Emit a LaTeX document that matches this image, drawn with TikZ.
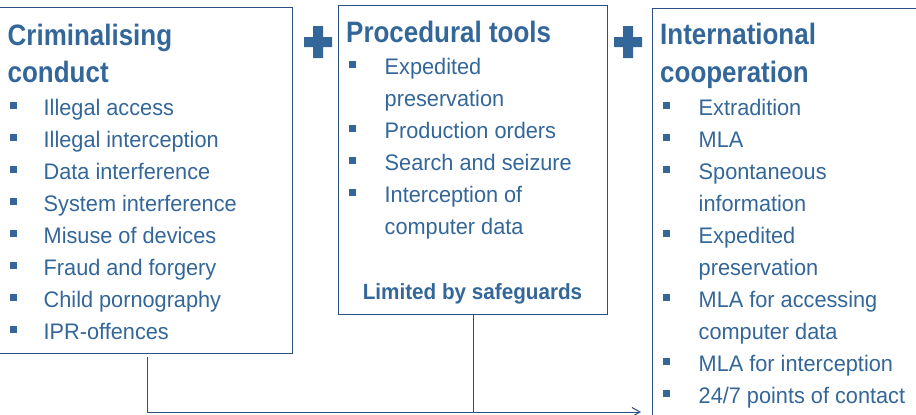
\documentclass[tikz,border=0pt]{standalone}
\usepackage{fontspec}
\setmainfont{Liberation Sans}
\newfontfamily\ttlfont[FakeStretch=0.88]{Liberation Sans}
\newfontfamily\notefont[FakeStretch=0.94]{Liberation Sans}
\newfontfamily\itmfont[FakeStretch=0.965]{Liberation Sans}
\usetikzlibrary{arrows.meta}
\definecolor{txtblue}{RGB}{51,102,153}
\definecolor{lineblue}{RGB}{44,78,130}
\begin{document}
\begin{tikzpicture}[x=1pt,y=-1pt,
  box/.style={draw=lineblue, line width=1pt, anchor=north west, inner sep=0pt},
  ttl/.style={anchor=base west, inner sep=0pt, text=txtblue, font=\ttlfont\bfseries\fontsize{29.5}{34}\selectfont},
  itm/.style={anchor=base west, inner sep=0pt, text=txtblue, font=\itmfont\fontsize{22.5}{26}\selectfont},
  note/.style={anchor=base, inner sep=0pt, text=txtblue, font=\notefont\bfseries\fontsize{22}{26}\selectfont},
  bul/.style={fill=txtblue, minimum size=7pt, inner sep=0pt},
  conn/.style={draw=lineblue, line width=1pt},
  plusbar/.style={fill=txtblue}]
\clip (0,0) rectangle (916,415);
% boxes
\node[box, minimum width=297pt, minimum height=346pt] (crim) at (-5,7) {};
\node[box, minimum width=269pt, minimum height=309pt] (proc) at (338,5) {};
\node[box, minimum width=300pt, minimum height=430pt] (intl) at (652,8) {};
% plus signs
\fill[plusbar] (313,26) rectangle (323,58) (304,37) rectangle (332,47);
\fill[plusbar] (623,26) rectangle (633,58) (614,37) rectangle (642,47);
% left box
\node[ttl] (t1a) at (7.5,45) {Criminalising};
\node[ttl] (t1b) at (7.5,82) {conduct};
\foreach \y/\t [count=\i] in {115/Illegal access, 147/Illegal interception, 179/Data interference,
  211/System interference, 243/Misuse of devices, 275/Fraud and forgery,
  307/Child pornography, 339/IPR-offences} {
  \node[bul] (b1\i) at (13.5,\y-9.5) {};
  \node[itm] (i1\i) at (43.5,\y) {\t};
}
% middle box
\node[ttl] (t2) at (346,42) {Procedural tools};
\foreach \y in {74,138,170,202} \node[bul] at (352.5,\y-9.5) {};
\node[itm] (i21) at (384.5,74) {Expedited};
\node[itm] (i22) at (384.5,106) {preservation};
\node[itm] (i23) at (384.5,138) {Production orders};
\node[itm] (i24) at (384.5,170) {Search and seizure};
\node[itm] (i25) at (384.5,202) {Interception of};
\node[itm] (i26) at (384.5,234) {computer data};
\node[note] (lim) at (472.5,299) {Limited by safeguards};
% right box
\node[ttl] (t3a) at (660,44) {International};
\node[ttl] (t3b) at (660,82) {cooperation};
\foreach \y in {115,147,179,243,307,371,403} \node[bul] at (666.5,\y-9.5) {};
\node[itm] (i31) at (698.5,115) {Extradition};
\node[itm] (i32) at (698.5,147) {MLA};
\node[itm] (i33) at (698.5,179) {Spontaneous};
\node[itm] (i34) at (698.5,211) {information};
\node[itm] (i35) at (698.5,243) {Expedited};
\node[itm] (i36) at (698.5,275) {preservation};
\node[itm] (i37) at (698.5,307) {MLA for accessing};
\node[itm] (i38) at (698.5,339) {computer data};
\node[itm] (i39) at (698.5,371) {MLA for interception};
\node[itm] (i310) at (698.5,403) {24/7 points of contact};
% connectors
\coordinate (s) at (147,357);
\coordinate (e) at (641,412);
\draw[conn, -{Straight Barb[length=8pt,width=9pt,line width=1pt]}] (s) |- (e);
\draw[conn] (proc.south) -- (proc.south |- e);
\end{tikzpicture}
\end{document}
